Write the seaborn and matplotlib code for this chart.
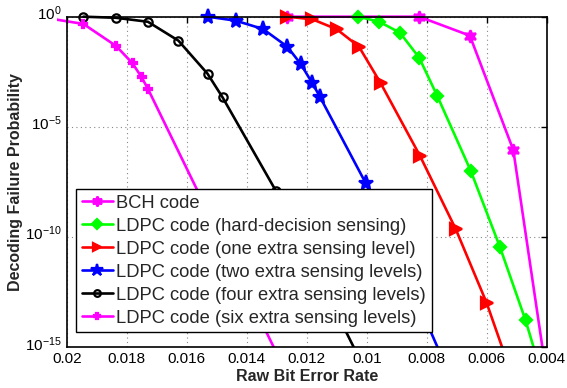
import numpy as np
import pandas as pd
import matplotlib
matplotlib.use("Agg")
import matplotlib.pyplot as plt
import seaborn as sns
from matplotlib.transforms import Bbox, TransformedBbox, ScaledTranslation
from matplotlib.ticker import FixedLocator, LogFormatterSciNotation

# ---- data (raw BER, log10 of decoding failure probability) ----
bch_x = [0.01265, 0.00825, 0.00656, 0.00511, 0.0040]
bch_y = [0.0, 0.0, -0.86, -6.06, -16.3]

hard_x = [0.01028, 0.00958, 0.00889, 0.00825, 0.00765, 0.00653, 0.00556, 0.00470, 0.0040]
hard_y = [0.0, -0.23, -0.73, -1.86, -3.59, -7.0, -10.45, -13.8, -17.0]

one_x = [0.01265, 0.01181, 0.01100, 0.01026, 0.00953, 0.00822, 0.00703, 0.00600, 0.0050]
one_y = [0.0, -0.12, -0.57, -1.36, -3.03, -6.33, -9.65, -13.0, -16.9]

two_x = [0.01531, 0.01437, 0.01346, 0.01265, 0.01220, 0.01181, 0.01156, 0.01003, 0.0070]
two_y = [0.0, -0.18, -0.56, -1.36, -2.15, -3.03, -3.64, -7.57, -17.0]

four_x = [0.01945, 0.01836, 0.01730, 0.01628, 0.01531, 0.01481, 0.01303, 0.0100]
four_y = [0.0, -0.05, -0.23, -1.09, -2.59, -3.66, -7.91, -16.2]

six_x = [0.0205, 0.01945, 0.01836, 0.01781, 0.01751, 0.01730, 0.0130]
six_y = [-0.10, -0.33, -1.33, -2.12, -2.75, -3.27, -15.3]

labels = ["BCH code",
          "LDPC code (hard-decision sensing)",
          "LDPC code (one extra sensing level)",
          "LDPC code (two extra sensing levels)",
          "LDPC code (four extra sensing levels)",
          "LDPC code (six extra sensing levels)"]

xticks = [0.02, 0.018, 0.016, 0.014, 0.012, 0.01, 0.008, 0.006, 0.004]
xticklabels = ["0.02", "0.018", "0.016", "0.014", "0.012", "0.01", "0.008", "0.006", "0.004"]
yticks = [1e-15, 1e-10, 1e-5, 1e0]

series = [
    (bch_x, bch_y, "#FF00FF", (6, 1, 0), 9, True),
    (hard_x, hard_y, "#00FF00", "D", 6, True),
    (one_x, one_y, "#FF0000", ">", 8, True),
    (two_x, two_y, "#0000FF", "*", 11, True),
    (four_x, four_y, "#000000", "o", 6, False),
    (six_x, six_y, "#FF00FF", "P", 6, True),
]

sns.set_style("white")
plt.rcParams['font.family'] = ['Liberation Sans', 'DejaVu Sans']
plt.rcParams['axes.unicode_minus'] = False
plt.rcParams['mathtext.fontset'] = 'custom'
plt.rcParams['mathtext.rm'] = 'Liberation Sans'
plt.rcParams['mathtext.it'] = 'Liberation Sans'
plt.rcParams['mathtext.default'] = 'regular'

fig = plt.figure(figsize=(5.67, 3.88), dpi=100)
ax = fig.add_axes([0.118, 0.106, 0.846, 0.851])

for (xs, ys, col, mk, ms, filled), lab in zip(series, labels):
    df = pd.DataFrame({"ber": xs, "p": np.power(10.0, ys)})
    sns.lineplot(data=df, x="ber", y="p", ax=ax, color=col, marker=mk,
                 markersize=ms, linewidth=1.9, sort=False, estimator=None,
                 label=lab,
                 markerfacecolor=(col if filled else "none"),
                 markeredgecolor=col, markeredgewidth=1.6)

ax.set_yscale("log")
ax.set_xlim(0.02, 0.004)
ax.set_ylim(1e-15, 1.0)
ax.xaxis.set_major_locator(FixedLocator(xticks))
ax.set_xticklabels(xticklabels)
ax.yaxis.set_major_locator(FixedLocator(yticks))
ax.yaxis.set_minor_locator(FixedLocator([]))
ax.yaxis.set_major_formatter(LogFormatterSciNotation())

# let markers at the top edge show fully while lines stay clipped below
clip = TransformedBbox(Bbox([[-0.02, 0.0], [1.0, 1.04]]), ax.transAxes)
for ln in ax.lines:
    ln.set_clip_box(clip)

ax.grid(True, which="major", linestyle=(0, (1, 3)), color="#888888", linewidth=0.8)
ax.tick_params(axis="both", which="major", direction="in", length=4, width=1,
               top=True, right=True, labelsize=11, colors="black", pad=4)
for s in ax.spines.values():
    s.set_color("black")
    s.set_linewidth(1.2)

# keep the "10" centred on the tick, exponent above (MATLAB style)
for t in ax.yaxis.get_major_ticks():
    t.label1.set_transform(t.label1.get_transform() +
                           ScaledTranslation(0, 3 / 72, fig.dpi_scale_trans))

ax.set_xlabel("Raw Bit Error Rate", fontsize=11.5, fontweight="bold", labelpad=2)
ax.set_ylabel("Decoding Failure Probability", fontsize=11.5, fontweight="bold", labelpad=1)

leg = ax.legend(loc="lower left", bbox_to_anchor=(0.019, 0.044), borderaxespad=0,
                fontsize=13.2, frameon=True, fancybox=False, edgecolor="black",
                framealpha=1, handlelength=1.7, handletextpad=0.2,
                labelspacing=0.33, borderpad=0.3)
leg.get_frame().set_linewidth(1.0)
for h in leg.legend_handles:
    h.set_markersize(h.get_markersize() * 0.8)

fig.savefig("out.png", dpi=100)
